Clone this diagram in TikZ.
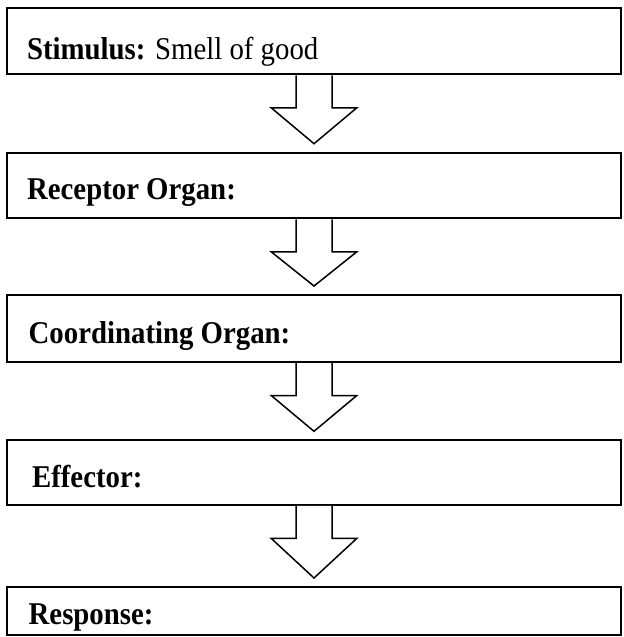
\documentclass[tikz,border=0pt]{standalone}
\usepackage{fontspec}
\setmainfont{Liberation Serif}
\usetikzlibrary{calc}
\tikzset{
  box/.style={draw=black, line width=1pt, fill=white, minimum width=307pt, inner sep=0pt, anchor=north west},
  boxtext/.style={anchor=base west, inner sep=0pt, font=\fontsize{14.4}{17}\selectfont},
  arrowline/.style={draw=black, line width=0.75pt, fill=white, line join=miter}
}
\newcommand\tallt[1]{\scalebox{1}[1.1]{#1}}
\newcommand\flowarrow[2]{%
  \filldraw[arrowline] ($(#1.south)+(-18,0)$) -- ++(0,-32.5) -- ++(-24.8,0)
    -- ($(#2.north)+(0,8)$) -- ($(#1.south)+(42.8,-32.5)$) -- ++(-24.8,0) -- ++(0,32.5);
}
\begin{document}
\begin{tikzpicture}[x=0.5pt,y=0.5pt]
\useasboundingbox[fill=white] (0,0) rectangle (623,-637);
\node[box, minimum height=33pt] (b1) at (6,-7.3) {};
\node[box, minimum height=32.8pt] (b2) at (6,-151.7) {};
\node[box, minimum height=33.5pt] (b3) at (6,-294) {};
\node[box, minimum height=32.3pt] (b4) at (6,-439.3) {};
\node[box, minimum height=24pt] (b5) at (6,-586) {};
\node[boxtext] (t1) at ($(b1.north west)+(20.7,-52)$) {\tallt{\textbf{Stimulus:} Smell of good}};
\node[boxtext] (t2) at ($(b2.north west)+(20.7,-47.6)$) {\tallt{\textbf{Receptor Organ:}}};
\node[boxtext] (t3) at ($(b3.north west)+(22.3,-49)$) {\tallt{\textbf{Coordinating Organ:}}};
\node[boxtext] (t4) at ($(b4.north west)+(25.7,-48)$) {\tallt{\textbf{Effector:}}};
\node[boxtext] (t5) at ($(b5.north west)+(22.3,-38.3)$) {\tallt{\textbf{Response:}}};
\flowarrow{b1}{b2}
\flowarrow{b2}{b3}
\flowarrow{b3}{b4}
\flowarrow{b4}{b5}
\end{tikzpicture}
\end{document}
